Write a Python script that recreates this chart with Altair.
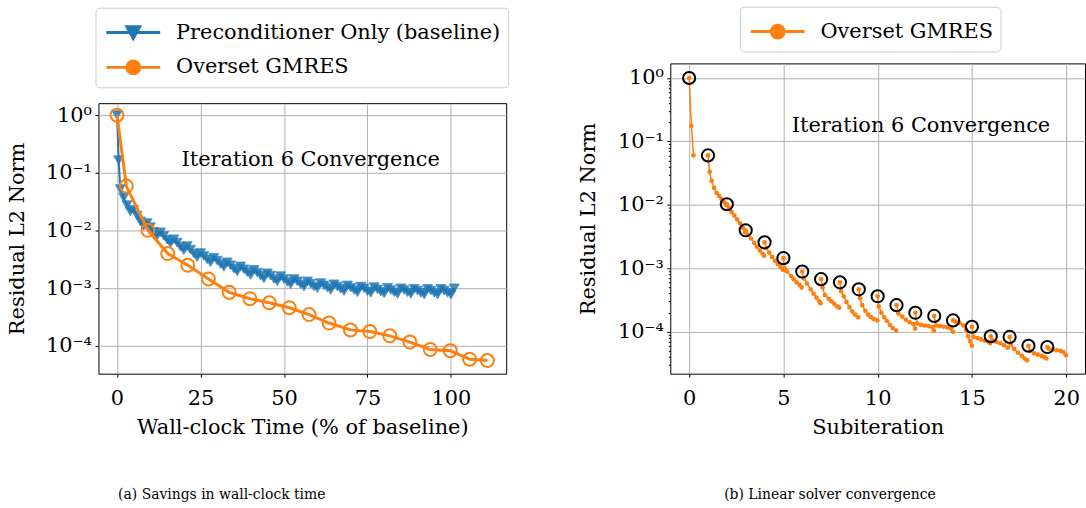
import altair as alt
import numpy as np
import pandas as pd

FONT = "DejaVu Serif"
FS = 21
BLUE = "#1f77b4"
ORANGE = "#ff7f0e"

SERIES = ["Preconditioner Only (baseline)", "Overset GMRES"]

# ---- left panel: baseline (preconditioner only), residual exponents (log10) ----
BASE_TIME = [0, 0.5, 1, 2, 3, 4, 5, 6, 7, 8, 9, 10, 11, 12, 13, 14, 15, 16, 17, 18, 19, 20,
             21, 22, 23, 24, 25, 26, 27, 28, 29, 30, 31, 32, 33, 34, 35, 36, 37, 38, 39, 40,
             41, 42, 43, 44, 45, 46, 47, 48, 49, 50, 51, 52, 53, 54, 55, 56, 57, 58, 59, 60,
             61, 62, 63, 64, 65, 66, 67, 68, 69, 70, 71, 72, 73, 74, 75, 76, 77, 78, 79, 80,
             81, 82, 83, 84, 85, 86, 87, 88, 89, 90, 91, 92, 93, 94, 95, 96, 97, 98, 99, 100, 101]
BASE_LOG10 = [0.0, -0.78, -1.28, -1.43, -1.56, -1.67, -1.64, -1.74, -1.84, -1.92, -1.87, -1.94,
              -2.02, -2.09, -2.03, -2.09, -2.16, -2.22, -2.15, -2.21, -2.28, -2.34,
              -2.27, -2.33, -2.40, -2.46, -2.39, -2.44, -2.50, -2.55, -2.47, -2.52,
              -2.58, -2.63, -2.55, -2.60, -2.66, -2.71, -2.62, -2.67, -2.72, -2.77,
              -2.68, -2.73, -2.78, -2.83, -2.74, -2.78, -2.84, -2.88, -2.79, -2.84,
              -2.89, -2.93, -2.84, -2.88, -2.93, -2.97, -2.88, -2.92, -2.97, -3.00,
              -2.91, -2.95, -2.99, -3.03, -2.93, -2.97, -3.01, -3.05, -2.95, -2.99,
              -3.03, -3.07, -2.97, -3.00, -3.05, -3.08, -2.98, -3.02, -3.06, -3.09,
              -2.99, -3.03, -3.07, -3.10, -3.00, -3.03, -3.07, -3.10, -3.01, -3.04,
              -3.08, -3.11, -3.01, -3.04, -3.08, -3.11, -3.01, -3.04, -3.08, -3.11, -3.00]

# ---- left panel: Overset GMRES ----
GMRES_TIME = [0, 2.8, 9.25, 15.2, 21.2, 27.4, 33.6, 39.8, 45.6, 51.6, 57.5, 63.5, 69.9,
              75.7, 81.7, 87.7, 93.8, 99.8, 105.6, 110.9]
GMRES_RES = [1.0, 0.059, 0.0101, 0.004, 0.0025, 0.00145, 0.00085, 0.00066, 0.00056, 0.00046,
             0.00035, 0.00025, 0.00019, 0.000178, 0.00015, 0.000117, 0.000087, 0.000083,
             0.000059, 0.000056]

# ---- right panel: inner iterations per subiteration (log10 residual) ----
SUB_X = [
    [0.0, 0.12, 0.23],
    [1.0, 1.09, 1.19, 1.32, 1.46, 1.59, 1.72, 1.86, 1.97],
    [2.0, 2.1, 2.25, 2.4, 2.55, 2.7, 2.85, 2.97],
    [3.0, 3.12, 3.28, 3.45, 3.6, 3.75, 3.9, 3.98],
    [4.0, 4.1, 4.25, 4.4, 4.55, 4.7, 4.85, 4.97],
    [5.0, 5.06, 5.2, 5.4, 5.55, 5.7, 5.85, 5.97],
    [6.0, 6.08, 6.25, 6.45, 6.6, 6.75, 6.9, 6.97],
    [7.0, 7.08, 7.2, 7.4, 7.55, 7.7, 7.85, 7.96],
    [8.0, 8.06, 8.2, 8.35, 8.5, 8.65, 8.8, 8.97],
    [9.0, 9.06, 9.18, 9.35, 9.5, 9.65, 9.8, 9.98],
    [10.0, 10.06, 10.2, 10.35, 10.5, 10.65, 10.8, 10.98],
    [11.0, 11.1, 11.3, 11.5, 11.7, 11.9, 11.99],
    [12.0, 12.1, 12.3, 12.5, 12.7, 12.9, 12.98],
    [13.0, 13.1, 13.3, 13.5, 13.7, 13.9, 13.99],
    [14.0, 14.15, 14.35, 14.55, 14.7, 14.8, 14.9, 15.0],
    [15.0, 15.08, 15.3, 15.5, 15.7, 15.9, 15.97],
    [16.0, 16.08, 16.3, 16.5, 16.7, 16.9],
    [17.0, 17.06, 17.25, 17.45, 17.65, 17.8, 17.93],
    [18.0, 18.08, 18.3, 18.5, 18.7, 18.85, 18.95],
    [19.0, 19.08, 19.3, 19.5, 19.7, 19.85, 19.99],
]
SUB_LOG10 = [
    [0.0, -0.755, -1.22],
    [-1.22, -1.48, -1.62, -1.73, -1.81, -1.86, -1.91, -1.96, -2.0],
    [-1.99, -2.05, -2.11, -2.17, -2.23, -2.29, -2.36, -2.43],
    [-2.40, -2.47, -2.53, -2.60, -2.66, -2.72, -2.77, -2.80],
    [-2.59, -2.68, -2.75, -2.82, -2.88, -2.93, -2.98, -3.02],
    [-2.84, -3.00, -3.05, -3.12, -3.17, -3.22, -3.26, -3.30],
    [-3.05, -3.16, -3.24, -3.33, -3.40, -3.46, -3.52, -3.55],
    [-3.17, -3.30, -3.42, -3.48, -3.52, -3.56, -3.60, -3.62],
    [-3.22, -3.36, -3.44, -3.53, -3.61, -3.68, -3.73, -3.77],
    [-3.33, -3.47, -3.58, -3.67, -3.73, -3.77, -3.80, -3.82],
    [-3.44, -3.60, -3.70, -3.77, -3.83, -3.89, -3.94, -3.98],
    [-3.58, -3.71, -3.76, -3.81, -3.85, -3.88, -3.95],
    [-3.70, -3.87, -3.89, -3.90, -3.91, -3.93, -3.98],
    [-3.75, -3.90, -3.91, -3.92, -3.93, -3.95, -4.00],
    [-3.82, -3.84, -3.86, -3.90, -3.97, -4.07, -4.15, -4.22],
    [-3.92, -4.08, -4.10, -4.12, -4.14, -4.16, -4.18],
    [-4.07, -4.13, -4.16, -4.18, -4.21, -4.25],
    [-4.08, -4.20, -4.27, -4.33, -4.38, -4.42, -4.45],
    [-4.22, -4.30, -4.34, -4.36, -4.38, -4.40, -4.42],
    [-4.24, -4.27, -4.28, -4.29, -4.30, -4.32, -4.37],
]

ANNOTATION = "Iteration 6 Convergence"
ANNOT_LEFT = [58.0, 0.17]
ANNOT_RIGHT = [12.3, 0.176]
CAPTIONS = ["(a) Savings in wall-clock time", "(b) Linear solver convergence"]
X_TICKS_LEFT = [0, 25, 50, 75, 100]
X_TICKS_RIGHT = [0, 5, 10, 15, 20]
Y_MAJOR = [1e-4, 1e-3, 1e-2, 1e-1, 1.0]
Y_MINOR_RIGHT = [m * 10.0 ** e for e in (-5, -4, -3, -2, -1) for m in range(2, 10)
                 if m * 10.0 ** e > 2.2e-5]

# ---------------- data frames ----------------
df_base = pd.DataFrame({"t": BASE_TIME, "r": 10.0 ** np.array(BASE_LOG10)})
df_gm = pd.DataFrame({"t": GMRES_TIME, "r": GMRES_RES})
df_leg_left = pd.concat([df_base.assign(series=SERIES[0]), df_gm.assign(series=SERIES[1])])

rows = []
for k, (xs, ls) in enumerate(zip(SUB_X, SUB_LOG10)):
    for x, l in zip(xs, ls):
        rows.append({"sub": k, "x": x, "r": 10.0 ** l})
df_sub = pd.DataFrame(rows)
df_start = pd.DataFrame({"x": [xs[0] for xs in SUB_X], "r": [10.0 ** ls[0] for ls in SUB_LOG10]})
df_leg_right = df_start.assign(series=SERIES[1])

df_txt_l = pd.DataFrame({"t": [ANNOT_LEFT[0]], "r": [ANNOT_LEFT[1]], "s": [ANNOTATION]})
df_txt_r = pd.DataFrame({"x": [ANNOT_RIGHT[0]], "r": [ANNOT_RIGHT[1]], "s": [ANNOTATION]})

# ---------------- axes ----------------
MAJOR_TEST = "abs(log(datum.value)/LN10 - round(log(datum.value)/LN10)) < 0.01"
LOG_LABEL = ("datum.value >= 0.5 ? '10⁰' : datum.value >= 0.05 ? '10⁻¹' : "
             "datum.value >= 0.005 ? '10⁻²' : datum.value >= 0.0005 ? '10⁻³' : '10⁻⁴'")

xl = alt.X("t:Q", scale=alt.Scale(domain=[-5.55, 116.55], nice=False, zero=False),
           axis=alt.Axis(values=X_TICKS_LEFT, title="Wall-clock Time (% of baseline)",
                         labelPadding=10, titlePadding=8.5))
yl = alt.Y("r:Q", scale=alt.Scale(type="log", domain=[10 ** -4.48, 10 ** 0.207], nice=False),
           axis=alt.Axis(values=Y_MAJOR, labelExpr=LOG_LABEL, title="Residual L2 Norm",
                         titlePadding=18))

xr = alt.X("x:Q", scale=alt.Scale(domain=[-1, 21], nice=False, zero=False),
           axis=alt.Axis(values=X_TICKS_RIGHT, title="Subiteration",
                         labelPadding=10, titlePadding=8.5))
yr = alt.Y("r:Q", scale=alt.Scale(type="log", domain=[10 ** -4.66, 10 ** 0.23], nice=False),
           axis=alt.Axis(values=Y_MAJOR + Y_MINOR_RIGHT,
                         labelExpr=f"({MAJOR_TEST}) ? ({LOG_LABEL}) : ''",
                         tickSize={"condition": {"test": MAJOR_TEST, "value": 3.5}, "value": 2},
                         gridOpacity={"condition": {"test": MAJOR_TEST, "value": 1}, "value": 0},
                         title="Residual L2 Norm", titlePadding=19))

LEG_TRI = "M-1.64,0H1.64M-0.39,-0.36H0.39L0,0.36Z"
LEG_CIRC = "M-1.64,0H1.64M-0.39,0A0.39,0.39,0,1,0,0.39,0A0.39,0.39,0,1,0,-0.39,0Z"


def legend(x, y):
    return alt.Legend(title=None, orient="none", legendX=x, legendY=y, direction="vertical",
                      symbolSize=1089, symbolStrokeWidth=3, symbolOpacity=1,
                      symbolOffset=13, labelOffset=25, labelFont=FONT, labelFontSize=FS,
                      labelColor="black", labelLimit=0, labelExpr="datum.label + '\u2003'",
                      padding=7, rowPadding=5,
                      fillColor="white", strokeColor="#cccccc", cornerRadius=4)


# ---------------- left panel ----------------
leg_l = legend(-3, -96)
sc_fill_l = alt.Scale(domain=SERIES, range=[BLUE, ORANGE])
sc_shape_l = alt.Scale(domain=SERIES, range=[LEG_TRI, LEG_CIRC])

left = alt.layer(
    alt.Chart(df_base).mark_line(color=BLUE, strokeWidth=2).encode(x=xl, y=yl),
    alt.Chart(df_base).mark_point(shape="triangle-down", filled=True, size=100, color=BLUE,
                                  opacity=0.85, stroke=BLUE, strokeWidth=0.8).encode(x=xl, y=yl),
    alt.Chart(df_gm).mark_line(color=ORANGE, strokeWidth=3).encode(x=xl, y=yl),
    alt.Chart(df_gm).mark_point(shape="circle", filled=False, size=170, color=ORANGE,
                                strokeWidth=2, opacity=1).encode(x=xl, y=yl),
    alt.Chart(df_leg_left).mark_point(filled=True, opacity=0, size=10).encode(
        x=xl, y=yl,
        fill=alt.Fill("series:N", scale=sc_fill_l, legend=leg_l),
        stroke=alt.Stroke("series:N", scale=sc_fill_l, legend=leg_l),
        shape=alt.Shape("series:N", scale=sc_shape_l, legend=leg_l)),
    alt.Chart(df_txt_l).mark_text(font=FONT, fontSize=FS, color="black", align="center",
                                  baseline="middle").encode(x=xl, y=yl, text="s:N"),
).properties(width=410, height=272,
             title=alt.TitleParams(CAPTIONS[0], orient="bottom", anchor="middle", frame="group",
                                   dx=-81, offset=51, fontSize=14, font=FONT,
                                   fontWeight="normal", color="black"))

# ---------------- right panel ----------------
leg_r = legend(70, -57)
sc_fill_r = alt.Scale(domain=[SERIES[1]], range=[ORANGE])
sc_shape_r = alt.Scale(domain=[SERIES[1]], range=[LEG_CIRC])

right = alt.layer(
    alt.Chart(df_sub).mark_line(color=ORANGE, strokeWidth=1.5).encode(x=xr, y=yr, detail="sub:N"),
    alt.Chart(df_sub).mark_circle(color=ORANGE, size=22, opacity=1).encode(x=xr, y=yr),
    alt.Chart(df_start).mark_point(shape="circle", filled=False, size=150, color="black",
                                   strokeWidth=2, opacity=1).encode(x=xr, y=yr),
    alt.Chart(df_leg_right).mark_point(filled=True, opacity=0, size=10).encode(
        x=xr, y=yr,
        fill=alt.Fill("series:N", scale=sc_fill_r, legend=leg_r),
        stroke=alt.Stroke("series:N", scale=sc_fill_r, legend=leg_r),
        shape=alt.Shape("series:N", scale=sc_shape_r, legend=leg_r)),
    alt.Chart(df_txt_r).mark_text(font=FONT, fontSize=FS, color="black", align="center",
                                  baseline="middle").encode(x=xr, y=yr, text="s:N"),
).properties(width=417, height=312,
             title=alt.TitleParams(CAPTIONS[1], orient="bottom", anchor="middle", frame="group",
                                   dx=-48, offset=51, fontSize=14, font=FONT,
                                   fontWeight="normal", color="black",
                                   # blank subtitle: extra room below so the centred layout
                                   # lifts this panel to the reference's height
                                   subtitle=" ", subtitleFontSize=31, subtitlePadding=10))

chart = alt.hconcat(left, right, spacing=68, center=True).resolve_scale(
    x="independent", y="independent", fill="independent", stroke="independent",
    shape="independent"
).resolve_legend(fill="independent", stroke="independent", shape="independent").properties(
    padding={"left": 6, "top": 4, "right": 0, "bottom": 0}
).configure(font=FONT).configure_view(stroke="black", strokeWidth=1).configure_axis(
    domain=False, grid=True, gridColor="#b0b0b0", gridWidth=1, tickColor="black",
    tickSize=3.5, tickWidth=1, labelFont=FONT, labelFontSize=FS, labelColor="black",
    labelPadding=3.5, titleFont=FONT, titleFontSize=FS, titleFontWeight="normal",
    titleColor="black"
)

chart.save("out.html", embed_options={"renderer": "svg", "actions": False})
